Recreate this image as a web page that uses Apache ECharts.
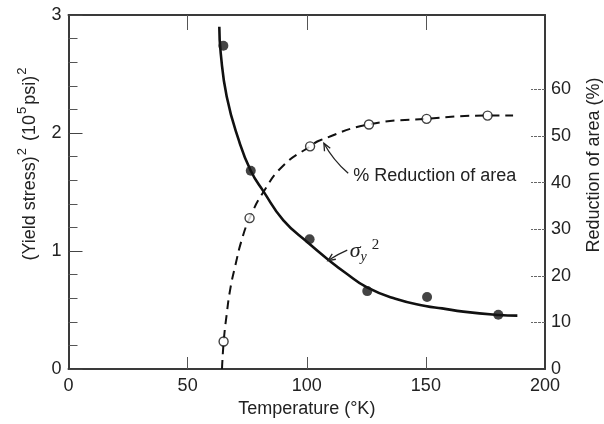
<!DOCTYPE html>
<html><head><meta charset="utf-8">
<script src="https://cdn.jsdelivr.net/npm/echarts@6/dist/echarts.min.js"></script>
<style>html,body{margin:0;padding:0;background:#fff}#c{width:604px;height:424px}</style>
</head><body><div id="c"></div>
<script>
// ---- data ----
const sigmaPtsT = [65.0, 76.5, 101.2, 125.4, 150.5, 180.4];
const sigmaPtsV = [2.74, 1.68, 1.10, 0.66, 0.61, 0.46];
const sigmaCurveT = [63.3, 63.9, 66.4, 71.3, 76.5, 81.9, 90.2, 100.8, 109.2, 116.2, 125.3, 137.2, 149.8, 156.8, 165.7, 180.4, 188.4];
const sigmaCurveV = [2.90, 2.675, 2.31, 1.95, 1.68, 1.503, 1.26, 1.065, 0.924, 0.816, 0.691, 0.595, 0.534, 0.514, 0.486, 0.458, 0.452];
const raPtsT = [65.1, 76.0, 101.4, 126.1, 150.3, 175.9];
const raPtsV = [5.9, 32.4, 47.8, 52.5, 53.7, 54.4];
const raCurveT = [64.43, 65.14, 66.32, 67.91, 70.01, 72.82, 76.05, 81.8, 90.2, 101.4, 105.6, 126.1, 150.3, 175.9, 186.6];
const raCurveV = [0, 5.9, 11.4, 17.2, 22.2, 27.9, 32.4, 38.0, 43.7, 47.8, 49.1, 52.5, 53.7, 54.4, 54.4];
const xInnerTicks = [50, 100, 150];
const rightLabels = [0, 10, 20, 30, 40, 50, 60];
const rightInnerTicks = [10, 20, 30, 40, 50, 60];
// annotation anchors (in temperature / left-axis units)
const arrowRA = [[117.4, 1.658], [111.0, 1.771], [107.2, 1.913]];
const arrowSig = [[117.0, 1.008], [113.1, 0.975], [108.9, 0.919]];
const labelRA = [119.5, 1.637];
const labelSig = [118.0, 1.0];

const zip = (a, b) => a.map((v, i) => [v, b[i]]);
const FONT = 'Liberation Sans';
const INK = '#222';
const frame = () => ({ show: true, onZero: false, lineStyle: { color: '#3a3a3a', width: 2 } });

const chart = echarts.init(document.getElementById('c'), null, { renderer: 'canvas' });
chart.setOption({
  animation: false,
  backgroundColor: '#fff',
  textStyle: { fontFamily: FONT },
  grid: { left: 68.5, right: 59, top: 15, bottom: 55 },
  xAxis: [{
    type: 'value', min: 0, max: 200, interval: 50, position: 'bottom',
    axisLine: frame(),
    axisTick: { show: true, inside: true, length: 12, customValues: xInnerTicks, lineStyle: { color: '#555', width: 1 } },
    axisLabel: { fontSize: 18, color: INK, margin: 8, fontFamily: FONT },
    splitLine: { show: false },
    name: 'Temperature (°K)', nameLocation: 'middle', nameGap: 27,
    nameTextStyle: { fontSize: 18, color: INK, fontFamily: FONT }
  }, {
    type: 'value', min: 0, max: 200, interval: 50, position: 'top',
    axisLine: frame(),
    axisTick: { show: true, inside: true, length: 15, customValues: xInnerTicks, lineStyle: { color: '#555', width: 1 } },
    axisLabel: { show: false }, splitLine: { show: false }
  }],
  yAxis: [{
    type: 'value', min: 0, max: 3, interval: 1, position: 'left',
    axisLine: frame(),
    axisTick: { show: true, inside: true, length: 14, lineStyle: { color: '#444', width: 1 } },
    minorTick: { show: true, splitNumber: 5, length: 9, lineStyle: { color: '#555', width: 1 } },
    axisLabel: { fontSize: 18, color: INK, margin: 7, fontFamily: FONT },
    splitLine: { show: false }, minorSplitLine: { show: false }
  }, {
    type: 'value', min: 0, max: 76, interval: 10, position: 'right',
    axisLine: frame(),
    axisTick: { show: true, inside: true, length: 14, customValues: rightInnerTicks, lineStyle: { color: '#666', width: 1, type: [3, 1] } },
    axisLabel: { fontSize: 18, color: INK, margin: 6, fontFamily: FONT, customValues: rightLabels },
    splitLine: { show: false }
  }],
  series: [{
    name: 'sigma curve', type: 'line', xAxisIndex: 0, yAxisIndex: 0,
    data: zip(sigmaCurveT, sigmaCurveV), smooth: 0.5,
    showSymbol: false, symbol: 'none', lineStyle: { color: '#111', width: 2.6 }, z: 3
  }, {
    name: 'sigma points', type: 'scatter', xAxisIndex: 0, yAxisIndex: 0,
    data: zip(sigmaPtsT, sigmaPtsV), symbol: 'circle', symbolSize: 10,
    itemStyle: { color: '#151515' }, z: 5
  }, {
    name: 'RA curve', type: 'line', xAxisIndex: 0, yAxisIndex: 1,
    data: zip(raCurveT, raCurveV), smooth: 0.5,
    showSymbol: false, symbol: 'none', lineStyle: { color: '#111', width: 2, type: [9, 6] }, z: 3
  }, {
    name: 'RA points', type: 'scatter', xAxisIndex: 0, yAxisIndex: 1,
    data: zip(raPtsT, raPtsV), symbol: 'circle', symbolSize: 9,
    itemStyle: { color: '#fff', borderColor: '#111', borderWidth: 1.4 }, z: 6
  }]
});

function px(p) { return chart.convertToPixel({ seriesIndex: 0 }, p); }
function arrowEls(a) {
  const s = px(a[0]), c = px(a[1]), t = px(a[2]);
  const dx = t[0] - c[0], dy = t[1] - c[1], L = Math.hypot(dx, dy);
  const ux = dx / L, uy = dy / L, h = 8, ang = 0.42;
  const rot = (x, y, r) => [x * Math.cos(r) - y * Math.sin(r), x * Math.sin(r) + y * Math.cos(r)];
  const r1 = rot(-ux, -uy, ang), r2 = rot(-ux, -uy, -ang);
  const ls = { stroke: '#222', lineWidth: 1.3, fill: null };
  return [
    { type: 'bezierCurve', shape: { x1: s[0], y1: s[1], cpx1: c[0], cpy1: c[1], x2: t[0], y2: t[1] }, style: ls, z: 10 },
    { type: 'polyline', shape: { points: [[t[0] + r1[0] * h, t[1] + r1[1] * h], t, [t[0] + r2[0] * h, t[1] + r2[1] * h]] }, style: ls, z: 10 }
  ];
}
const lRA = px(labelRA), lSig = px(labelSig);
chart.setOption({
  graphic: [
    ...arrowEls(arrowRA), ...arrowEls(arrowSig),
    { type: 'text', x: lRA[0], y: lRA[1], z: 10,
      style: { text: '% Reduction of area', fontSize: 18, fontFamily: FONT, fill: INK, align: 'left', verticalAlign: 'middle' } },
    { type: 'text', x: lSig[0], y: lSig[1], z: 10,
      style: {
        text: '{s|σ}{y|y}{t|2}', align: 'left', verticalAlign: 'middle', fill: INK,
        rich: {
          s: { fontSize: 22, fontFamily: 'Liberation Serif', fontStyle: 'italic', lineHeight: 26, verticalAlign: 'middle', fill: INK },
          y: { fontSize: 14, fontFamily: 'Liberation Serif', fontStyle: 'italic', lineHeight: 14, verticalAlign: 'bottom', fill: INK },
          t: { fontSize: 15, fontFamily: 'Liberation Serif', lineHeight: 17, verticalAlign: 'top', padding: [0, 0, 0, 5], fill: INK }
        }
      } },
    { type: 'text', x: 30, y: 163, rotation: Math.PI / 2, z: 10,
      style: {
        text: '{a|(Yield stress)}{s|2}{a| (10}{s|5}{a|psi)}{s|2}', align: 'center', verticalAlign: 'middle', fill: INK,
        rich: {
          a: { fontSize: 18, fontFamily: FONT, lineHeight: 28, verticalAlign: 'middle', fill: INK },
          s: { fontSize: 13, fontFamily: FONT, lineHeight: 13, verticalAlign: 'top', fill: INK, padding: [0, 2, 0, 1] }
        }
      } },
    { type: 'text', x: 594, y: 165, rotation: Math.PI / 2, z: 10,
      style: { text: 'Reduction of area (%)', fontSize: 18, fontFamily: FONT, fill: INK, align: 'center', verticalAlign: 'middle' } }
  ]
});
</script></body></html>
